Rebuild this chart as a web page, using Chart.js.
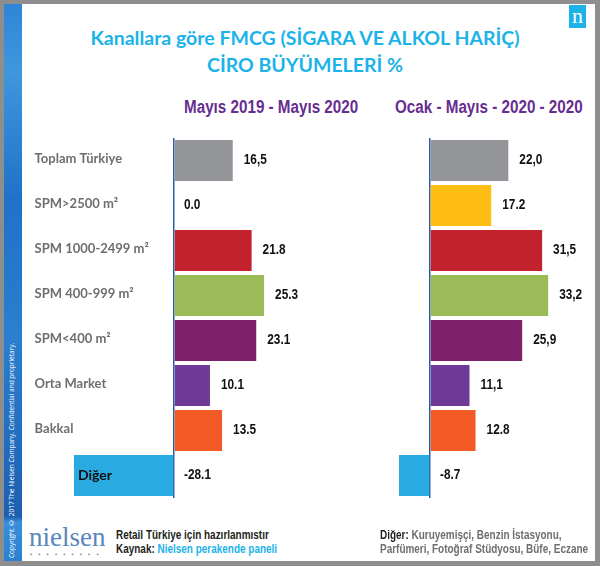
<!DOCTYPE html>
<html>
<head>
<meta charset="utf-8">
<script src="https://cdn.jsdelivr.net/npm/chart.js@4.4.1/dist/chart.umd.min.js"></script>
<style>
  body { margin: 0; background: #fff; }
  #page { position: relative; width: 600px; height: 566px; overflow: hidden; background: #fff; font-family: Lato, "Open Sans", sans-serif; }
  #frame { position: absolute; left: 0; top: 0; width: 600px; height: 566px; box-sizing: border-box; border: 4px solid #8e8e8e; border-right-width: 5px; border-bottom-width: 5px; }
  #strip { position: absolute; left: 4px; top: 4px; width: 18px; height: 557px;
    background: linear-gradient(to bottom, #2d86d6 0%, #3f97de 12%, #1f72c8 35%, #2a7fd0 60%, #1c5fb0 92%, #3a8fda 93%, #2b7fd0 100%); }
  #copy { position: absolute; left: 7px; top: 340px; height: 218px; width: 12px; writing-mode: vertical-rl; transform: rotate(180deg);
    color: #fff; font: 6.5px "Open Sans", sans-serif; white-space: nowrap; text-align: left; }
  #nbox { position: absolute; left: 569px; top: 5px; width: 17px; height: 23px; background: #1cb3e8; color: #fff;
    font: 22px "Liberation Serif", serif; line-height: 22px; text-align: center; }
  .title { position: absolute; left: 5px; width: 600px; text-align: center; color: #1cb3e8; font: 700 19.5px Lato, sans-serif; line-height: 19px; }
  /* no narrow face installed: squeeze Liberation Sans instead */
  .narrow { position: absolute; white-space: nowrap; font-family: "Liberation Sans", Arial, sans-serif; font-weight: 700; transform-origin: 0 0; }
  .sub { color: #662d91; font-size: 18px; line-height: 18px; transform: scaleX(0.845); }
  .foot { font-size: 12px; line-height: 14px; color: #231f20; transform: scaleX(0.83); }
  canvas { position: absolute; }
  .cyan { color: #1cb3e8; }
  .grey { color: #6d6e71; }
  #logo { position: absolute; left: 29px; top: 524px; font: 27px "Liberation Serif", serif; color: #5a86bb; line-height: 27px; }
  #dots { position: absolute; left: 30px; top: 551px; font: 6px sans-serif; color: #777; letter-spacing: 6.2px; }
</style>
</head>
<body>
<div id="page">
  <div id="strip"></div>
  <div id="copy">Copyright © 2017 The Nielsen Company. Confidential and proprietary.</div>
  <div id="frame"></div>
  <div id="nbox">n</div>

  <div class="title" style="top:28px">Kanallara göre FMCG (SİGARA VE ALKOL HARİÇ)</div>
  <div class="title" style="top:55px">CİRO BÜYÜMELERİ %</div>

  <div class="narrow sub" style="left:184px; top:98px">Mayıs 2019 - Mayıs 2020</div>
  <div class="narrow sub" style="left:395px; top:98px">Ocak - Mayıs - 2020 - 2020</div>

  <canvas id="chartLeft" width="320" height="400" style="left:0; top:120px"></canvas>
  <canvas id="chartRight" width="330" height="400" style="left:270px; top:120px"></canvas>

  <div id="logo">nielsen</div>
  <div id="dots">•••••••••</div>
  <div class="narrow foot" style="left:116px; top:528px">Retail Türkiye için hazırlanmıstır</div>
  <div class="narrow foot" style="left:116px; top:542px">Kaynak: <span class="cyan">Nielsen perakende paneli</span></div>
  <div class="narrow foot" style="left:380px; top:528px">Diğer: <span class="grey">Kuruyemişçi, Benzin İstasyonu,</span></div>
  <div class="narrow foot grey" style="left:380px; top:542px">Parfümeri, Fotoğraf Stüdyosu, Büfe, Eczane</div>
</div>

<script>
// data
var categories = ['Toplam Türkiye', 'SPM>2500 m²', 'SPM 1000-2499 m²', 'SPM 400-999 m²', 'SPM<400 m²', 'Orta Market', 'Bakkal', 'Diğer'];
var growthMay = [16.5, 0.0, 21.8, 25.3, 23.1, 10.1, 13.5, -28.1];
var growthJanMay = [22.0, 17.2, 31.5, 33.2, 25.9, 11.1, 12.8, -8.7];
var textMay = ['16,5', '0.0', '21.8', '25.3', '23.1', '10.1', '13.5', '-28.1'];
var textJanMay = ['22,0', '17.2', '31,5', '33,2', '25,9', '11,1', '12.8', '-8.7'];
var barColors = ['#939598', '#fdbd12', '#c1222b', '#9bbb59', '#7f206a', '#6f3a97', '#f15a24', '#29abe2'];

// value text next to each bar (squeezed to look condensed)
function valueLabels(texts) {
  return {
    id: 'valueLabels',
    afterDatasetsDraw: function (chart) {
      var ctx = chart.ctx;
      var zero = chart.scales.x.getPixelForValue(0);
      var vals = chart.data.datasets[0].data;
      ctx.save();
      ctx.font = 'bold 14px "Liberation Sans", Arial, sans-serif';
      ctx.fillStyle = '#111';
      ctx.textBaseline = 'middle';
      chart.getDatasetMeta(0).data.forEach(function (bar, i) {
        var x = vals[i] > 0 ? bar.x + 11 : zero + 10;
        ctx.save();
        ctx.translate(x, bar.y);
        ctx.scale(0.845, 1);
        ctx.fillText(texts[i], 0, 0);
        ctx.restore();
      });
      ctx.restore();
    }
  };
}

// channel names on the left chart
var channelNames = {
  id: 'channelNames',
  afterDatasetsDraw: function (chart) {
    var ctx = chart.ctx;
    var vals = chart.data.datasets[0].data;
    ctx.save();
    ctx.textBaseline = 'middle';
    chart.getDatasetMeta(0).data.forEach(function (bar, i) {
      if (vals[i] < 0) {
        ctx.font = 'bold 14px Lato, sans-serif';
        ctx.fillStyle = '#111';
        ctx.fillText(chart.data.labels[i], bar.x + 4, bar.y);
      } else {
        ctx.font = 'bold 13px Lato, sans-serif';
        ctx.fillStyle = '#6d6e71';
        ctx.fillText(chart.data.labels[i], chart.chartArea.left + 3, bar.y - 2);
      }
    });
    ctx.restore();
  }
};

function makeChart(id, values, texts, xMax, pad, extra) {
  return new Chart(document.getElementById(id), {
    type: 'bar',
    data: {
      labels: categories,
      datasets: [{
        data: values,
        backgroundColor: barColors,
        barPercentage: 0.91,
        categoryPercentage: 1
      }]
    },
    options: {
      indexAxis: 'y',
      responsive: false,
      animation: false,
      layout: { padding: pad },
      plugins: { legend: { display: false }, tooltip: { enabled: false } },
      scales: {
        x: {
          min: -40,
          max: xMax,
          ticks: { display: false, stepSize: 5 },
          border: { display: false },
          grid: {
            drawTicks: false,
            lineWidth: 1.5,
            color: function (c) { return c.tick && c.tick.value === 0 ? '#2b5ca6' : 'rgba(0,0,0,0)'; }
          }
        },
        y: { display: false }
      }
    },
    plugins: [valueLabels(texts)].concat(extra)
  });
}

makeChart('chartLeft', growthMay, textMay, 35, { left: 31.6, right: 21.4, top: 18, bottom: 22 }, [channelNames]);
makeChart('chartRight', growthJanMay, textJanMay, 42, { left: 17.6, right: 20.5, top: 18, bottom: 22 }, []);
</script>
</body>
</html>
